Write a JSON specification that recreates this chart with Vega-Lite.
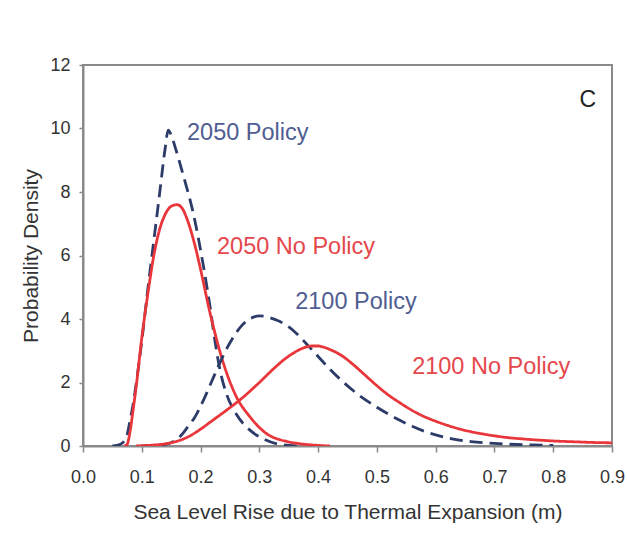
{
  "$schema": "https://vega.github.io/schema/vega-lite/v6.json",
  "width": 529,
  "height": 381,
  "autosize": {"type": "none"},
  "padding": {"left": 83, "top": 65, "right": 15, "bottom": 107},
  "background": "white",
  "config": {
    "font": "Liberation Sans",
    "view": {"stroke": "#8a8a8a", "strokeWidth": 2},
    "axis": {
      "domainColor": "#8a8a8a",
      "domainWidth": 2,
      "tickColor": "#8a8a8a",
      "tickWidth": 1.5,
      "grid": false,
      "labelFont": "Liberation Sans",
      "labelFontSize": 18,
      "labelColor": "#333333",
      "titleFont": "Liberation Sans",
      "titleFontSize": 21,
      "titleFontWeight": "normal",
      "titleColor": "#333333"
    }
  },
  "datasets": {
    "curves": [
      {"series": "2050 Policy", "x": 0.05, "y": 0.0},
      {"series": "2050 Policy", "x": 0.06, "y": 0.03},
      {"series": "2050 Policy", "x": 0.07, "y": 0.15},
      {"series": "2050 Policy", "x": 0.075, "y": 0.35},
      {"series": "2050 Policy", "x": 0.08, "y": 0.8},
      {"series": "2050 Policy", "x": 0.086, "y": 1.4},
      {"series": "2050 Policy", "x": 0.09, "y": 1.9},
      {"series": "2050 Policy", "x": 0.1, "y": 3.3},
      {"series": "2050 Policy", "x": 0.11, "y": 4.9},
      {"series": "2050 Policy", "x": 0.12, "y": 6.4},
      {"series": "2050 Policy", "x": 0.13, "y": 7.9},
      {"series": "2050 Policy", "x": 0.14, "y": 9.4},
      {"series": "2050 Policy", "x": 0.145, "y": 9.95},
      {"series": "2050 Policy", "x": 0.15, "y": 9.8},
      {"series": "2050 Policy", "x": 0.157, "y": 9.4},
      {"series": "2050 Policy", "x": 0.171, "y": 8.5},
      {"series": "2050 Policy", "x": 0.188, "y": 7.3},
      {"series": "2050 Policy", "x": 0.205, "y": 5.65},
      {"series": "2050 Policy", "x": 0.216, "y": 4.4},
      {"series": "2050 Policy", "x": 0.225, "y": 3.25},
      {"series": "2050 Policy", "x": 0.233, "y": 2.4},
      {"series": "2050 Policy", "x": 0.244, "y": 1.65},
      {"series": "2050 Policy", "x": 0.261, "y": 1.0},
      {"series": "2050 Policy", "x": 0.284, "y": 0.5},
      {"series": "2050 Policy", "x": 0.31, "y": 0.2},
      {"series": "2050 Policy", "x": 0.33, "y": 0.07},
      {"series": "2050 Policy", "x": 0.35, "y": 0.02},
      {"series": "2050 Policy", "x": 0.37, "y": 0.0},

      {"series": "2050 No Policy", "x": 0.07, "y": 0.0},
      {"series": "2050 No Policy", "x": 0.075, "y": 0.05},
      {"series": "2050 No Policy", "x": 0.08, "y": 0.45},
      {"series": "2050 No Policy", "x": 0.085, "y": 1.1},
      {"series": "2050 No Policy", "x": 0.09, "y": 1.8},
      {"series": "2050 No Policy", "x": 0.1, "y": 3.4},
      {"series": "2050 No Policy", "x": 0.11, "y": 4.75},
      {"series": "2050 No Policy", "x": 0.12, "y": 5.95},
      {"series": "2050 No Policy", "x": 0.13, "y": 6.8},
      {"series": "2050 No Policy", "x": 0.14, "y": 7.3},
      {"series": "2050 No Policy", "x": 0.15, "y": 7.55},
      {"series": "2050 No Policy", "x": 0.16, "y": 7.6},
      {"series": "2050 No Policy", "x": 0.17, "y": 7.45},
      {"series": "2050 No Policy", "x": 0.176, "y": 7.2},
      {"series": "2050 No Policy", "x": 0.19, "y": 6.35},
      {"series": "2050 No Policy", "x": 0.199, "y": 5.65},
      {"series": "2050 No Policy", "x": 0.216, "y": 4.2},
      {"series": "2050 No Policy", "x": 0.239, "y": 2.6},
      {"series": "2050 No Policy", "x": 0.261, "y": 1.55},
      {"series": "2050 No Policy", "x": 0.284, "y": 0.92},
      {"series": "2050 No Policy", "x": 0.31, "y": 0.42},
      {"series": "2050 No Policy", "x": 0.347, "y": 0.14},
      {"series": "2050 No Policy", "x": 0.37, "y": 0.07},
      {"series": "2050 No Policy", "x": 0.4, "y": 0.02},
      {"series": "2050 No Policy", "x": 0.42, "y": 0.0},

      {"series": "2100 Policy", "x": 0.1, "y": 0.0},
      {"series": "2100 Policy", "x": 0.12, "y": 0.01},
      {"series": "2100 Policy", "x": 0.14, "y": 0.05},
      {"series": "2100 Policy", "x": 0.155, "y": 0.15},
      {"series": "2100 Policy", "x": 0.17, "y": 0.4},
      {"series": "2100 Policy", "x": 0.18, "y": 0.65},
      {"series": "2100 Policy", "x": 0.19, "y": 0.9},
      {"series": "2100 Policy", "x": 0.2, "y": 1.25},
      {"series": "2100 Policy", "x": 0.21, "y": 1.65},
      {"series": "2100 Policy", "x": 0.22, "y": 2.08},
      {"series": "2100 Policy", "x": 0.23, "y": 2.5},
      {"series": "2100 Policy", "x": 0.24, "y": 2.9},
      {"series": "2100 Policy", "x": 0.25, "y": 3.25},
      {"series": "2100 Policy", "x": 0.26, "y": 3.55},
      {"series": "2100 Policy", "x": 0.27, "y": 3.79},
      {"series": "2100 Policy", "x": 0.28, "y": 3.96},
      {"series": "2100 Policy", "x": 0.29, "y": 4.06},
      {"series": "2100 Policy", "x": 0.3, "y": 4.1},
      {"series": "2100 Policy", "x": 0.31, "y": 4.08},
      {"series": "2100 Policy", "x": 0.32, "y": 4.03},
      {"series": "2100 Policy", "x": 0.33, "y": 3.96},
      {"series": "2100 Policy", "x": 0.34, "y": 3.87},
      {"series": "2100 Policy", "x": 0.35, "y": 3.75},
      {"series": "2100 Policy", "x": 0.36, "y": 3.6},
      {"series": "2100 Policy", "x": 0.37, "y": 3.42},
      {"series": "2100 Policy", "x": 0.38, "y": 3.22},
      {"series": "2100 Policy", "x": 0.39, "y": 3.02},
      {"series": "2100 Policy", "x": 0.4, "y": 2.82},
      {"series": "2100 Policy", "x": 0.42, "y": 2.42},
      {"series": "2100 Policy", "x": 0.44, "y": 2.06},
      {"series": "2100 Policy", "x": 0.46, "y": 1.74},
      {"series": "2100 Policy", "x": 0.48, "y": 1.46},
      {"series": "2100 Policy", "x": 0.5, "y": 1.22},
      {"series": "2100 Policy", "x": 0.52, "y": 1.0},
      {"series": "2100 Policy", "x": 0.54, "y": 0.8},
      {"series": "2100 Policy", "x": 0.56, "y": 0.62},
      {"series": "2100 Policy", "x": 0.58, "y": 0.47},
      {"series": "2100 Policy", "x": 0.6, "y": 0.35},
      {"series": "2100 Policy", "x": 0.63, "y": 0.22},
      {"series": "2100 Policy", "x": 0.66, "y": 0.14},
      {"series": "2100 Policy", "x": 0.7, "y": 0.08},
      {"series": "2100 Policy", "x": 0.75, "y": 0.04},
      {"series": "2100 Policy", "x": 0.8, "y": 0.02},

      {"series": "2100 No Policy", "x": 0.09, "y": 0.0},
      {"series": "2100 No Policy", "x": 0.1, "y": 0.01},
      {"series": "2100 No Policy", "x": 0.12, "y": 0.03},
      {"series": "2100 No Policy", "x": 0.14, "y": 0.07},
      {"series": "2100 No Policy", "x": 0.16, "y": 0.15},
      {"series": "2100 No Policy", "x": 0.18, "y": 0.3},
      {"series": "2100 No Policy", "x": 0.2, "y": 0.53},
      {"series": "2100 No Policy", "x": 0.22, "y": 0.8},
      {"series": "2100 No Policy", "x": 0.24, "y": 1.07},
      {"series": "2100 No Policy", "x": 0.26, "y": 1.35},
      {"series": "2100 No Policy", "x": 0.27, "y": 1.5},
      {"series": "2100 No Policy", "x": 0.28, "y": 1.66},
      {"series": "2100 No Policy", "x": 0.29, "y": 1.83},
      {"series": "2100 No Policy", "x": 0.3, "y": 2.0},
      {"series": "2100 No Policy", "x": 0.31, "y": 2.18},
      {"series": "2100 No Policy", "x": 0.32, "y": 2.36},
      {"series": "2100 No Policy", "x": 0.33, "y": 2.53},
      {"series": "2100 No Policy", "x": 0.34, "y": 2.69},
      {"series": "2100 No Policy", "x": 0.35, "y": 2.83},
      {"series": "2100 No Policy", "x": 0.36, "y": 2.95},
      {"series": "2100 No Policy", "x": 0.37, "y": 3.05},
      {"series": "2100 No Policy", "x": 0.38, "y": 3.12},
      {"series": "2100 No Policy", "x": 0.39, "y": 3.15},
      {"series": "2100 No Policy", "x": 0.4, "y": 3.15},
      {"series": "2100 No Policy", "x": 0.41, "y": 3.11},
      {"series": "2100 No Policy", "x": 0.42, "y": 3.04},
      {"series": "2100 No Policy", "x": 0.44, "y": 2.85},
      {"series": "2100 No Policy", "x": 0.46, "y": 2.56},
      {"series": "2100 No Policy", "x": 0.48, "y": 2.23},
      {"series": "2100 No Policy", "x": 0.5, "y": 1.9},
      {"series": "2100 No Policy", "x": 0.52, "y": 1.6},
      {"series": "2100 No Policy", "x": 0.54, "y": 1.35},
      {"series": "2100 No Policy", "x": 0.56, "y": 1.12},
      {"series": "2100 No Policy", "x": 0.58, "y": 0.93},
      {"series": "2100 No Policy", "x": 0.6, "y": 0.78},
      {"series": "2100 No Policy", "x": 0.62, "y": 0.65},
      {"series": "2100 No Policy", "x": 0.64, "y": 0.54},
      {"series": "2100 No Policy", "x": 0.66, "y": 0.45},
      {"series": "2100 No Policy", "x": 0.68, "y": 0.38},
      {"series": "2100 No Policy", "x": 0.7, "y": 0.32},
      {"series": "2100 No Policy", "x": 0.72, "y": 0.27},
      {"series": "2100 No Policy", "x": 0.75, "y": 0.22},
      {"series": "2100 No Policy", "x": 0.78, "y": 0.18},
      {"series": "2100 No Policy", "x": 0.81, "y": 0.15},
      {"series": "2100 No Policy", "x": 0.84, "y": 0.13},
      {"series": "2100 No Policy", "x": 0.87, "y": 0.11},
      {"series": "2100 No Policy", "x": 0.9, "y": 0.1}
    ],
    "labels": [
      {"label": "2050 Policy", "kind": "policy", "x": 0.177, "y": 9.86},
      {"label": "2050 No Policy", "kind": "nopolicy", "x": 0.228, "y": 6.27},
      {"label": "2100 Policy", "kind": "policy", "x": 0.361, "y": 4.54},
      {"label": "2100 No Policy", "kind": "nopolicy", "x": 0.56, "y": 2.49},
      {"label": "C", "kind": "panel", "x": 0.859, "y": 10.9}
    ]
  },
  "layer": [
    {
      "data": {"name": "curves"},
      "mark": {"type": "line", "strokeWidth": 2.8, "interpolate": "monotone", "clip": true},
      "encoding": {
        "x": {
          "field": "x", "type": "quantitative",
          "scale": {"domain": [0, 0.9], "nice": false, "zero": false},
          "axis": {
            "title": "Sea Level Rise due to Thermal Expansion (m)",
            "values": [0, 0.1, 0.2, 0.3, 0.4, 0.5, 0.6, 0.7, 0.8, 0.9],
            "format": ".1f",
            "tickSize": 6,
            "labelPadding": 16,
            "titlePadding": 15,
            "labelFlush": false
          }
        },
        "y": {
          "field": "y", "type": "quantitative",
          "scale": {"domain": [0, 12], "nice": false},
          "axis": {
            "title": "Probability Density",
            "values": [0, 2, 4, 6, 8, 10, 12],
            "format": "d",
            "tickSize": 4,
            "labelPadding": 9,
            "titlePadding": 8,
            "labelFlush": false
          }
        },
        "color": {
          "field": "series", "type": "nominal",
          "scale": {
            "domain": ["2050 Policy", "2050 No Policy", "2100 Policy", "2100 No Policy"],
            "range": ["#2c3b68", "#e8363b", "#2c3b68", "#e8363b"]
          },
          "legend": null
        },
        "strokeDash": {
          "field": "series", "type": "nominal",
          "scale": {
            "domain": ["2050 Policy", "2050 No Policy", "2100 Policy", "2100 No Policy"],
            "range": [[13, 7], [1, 0], [13, 7], [1, 0]]
          },
          "legend": null
        },
        "order": {"field": "x", "type": "quantitative"}
      }
    },
    {
      "data": {"name": "labels"},
      "transform": [{"filter": "datum.kind == 'policy'"}],
      "mark": {"type": "text", "align": "left", "baseline": "middle", "fontSize": 23.5, "color": "#4f5d92"},
      "encoding": {
        "x": {"field": "x", "type": "quantitative"},
        "y": {"field": "y", "type": "quantitative"},
        "text": {"field": "label"}
      }
    },
    {
      "data": {"name": "labels"},
      "transform": [{"filter": "datum.kind == 'nopolicy'"}],
      "mark": {"type": "text", "align": "left", "baseline": "middle", "fontSize": 23.5, "color": "#e4474c"},
      "encoding": {
        "x": {"field": "x", "type": "quantitative"},
        "y": {"field": "y", "type": "quantitative"},
        "text": {"field": "label"}
      }
    },
    {
      "data": {"name": "labels"},
      "transform": [{"filter": "datum.kind == 'panel'"}],
      "mark": {"type": "text", "align": "center", "baseline": "middle", "fontSize": 23, "color": "#222222"},
      "encoding": {
        "x": {"field": "x", "type": "quantitative"},
        "y": {"field": "y", "type": "quantitative"},
        "text": {"field": "label"}
      }
    }
  ]
}
